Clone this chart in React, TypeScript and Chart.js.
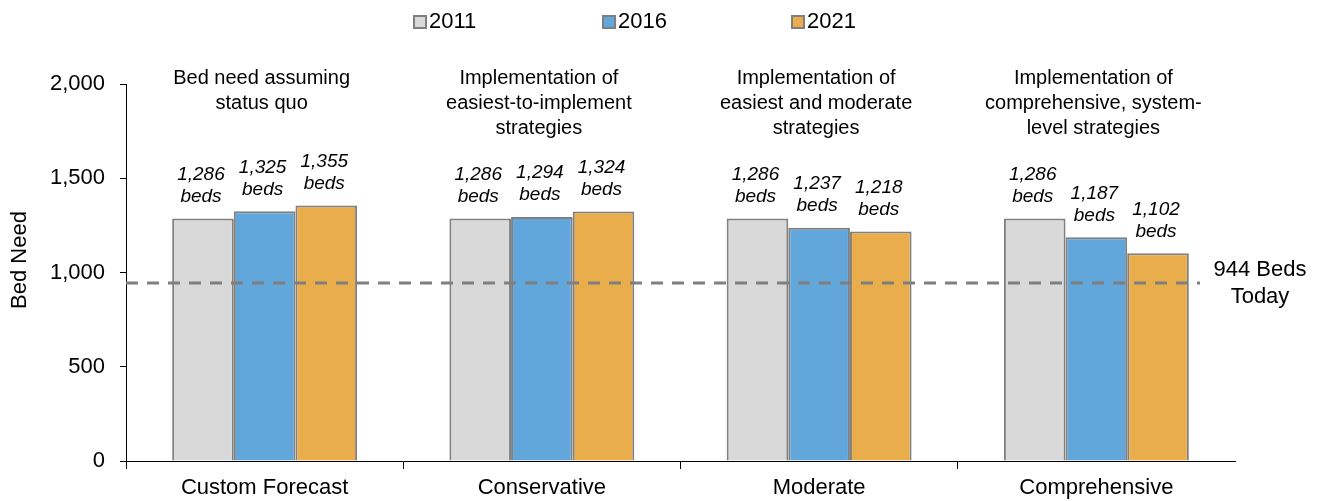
import React, { useEffect, useRef } from "react";
import { Chart, registerables } from "chart.js";

Chart.register(...registerables);

const categories = ["Custom Forecast", "Conservative", "Moderate", "Comprehensive"];
const groupTitles = [
  ["Bed need assuming", "status quo"],
  ["Implementation of", "easiest-to-implement", "strategies"],
  ["Implementation of", "easiest and moderate", "strategies"],
  ["Implementation of", "comprehensive, system-", "level strategies"],
];
const years = ["2011", "2016", "2021"];
const values2011 = [1286, 1286, 1286, 1286];
const values2016 = [1325, 1294, 1237, 1187];
const values2021 = [1355, 1324, 1218, 1102];
const yTicks = [0, 500, 1000, 1500, 2000];
const baselineValue = 944;
const baselineLabel = ["944 Beds", "Today"];
const yAxisTitle = "Bed Need";
const valueUnit = "beds";

const FONT = "'Liberation Sans', Arial, sans-serif";
const fills = ["#d9d9d9", "#62a7dc", "#e9ae4b"];
const barBorder = "#808080";

const overlayPlugin = {
  id: "overlay",
  afterDatasetsDraw(chart: any) {
    const { ctx, chartArea, scales } = chart;
    const x = scales.x;
    const y = scales.y;
    ctx.save();

    // baseline dashed line
    const yb = y.getPixelForValue(baselineValue);
    ctx.strokeStyle = "#7f7f7f";
    ctx.lineWidth = 3;
    ctx.setLineDash([12, 9]);
    ctx.beginPath();
    ctx.moveTo(chartArea.left, yb);
    ctx.lineTo(chartArea.right - 35, yb);
    ctx.stroke();
    ctx.setLineDash([]);

    ctx.fillStyle = "#000";
    ctx.textAlign = "center";
    ctx.textBaseline = "middle";
    ctx.font = `22px ${FONT}`;
    ctx.fillText(baselineLabel[0], chartArea.right + 25, yb - 13.5);
    ctx.fillText(baselineLabel[1], chartArea.right + 25, yb + 13.5);

    // value labels
    ctx.font = `italic 19px ${FONT}`;
    chart.data.datasets.forEach((ds: any, di: number) => {
      const meta = chart.getDatasetMeta(di);
      meta.data.forEach((el: any, i: number) => {
        const v = ds.data[i] as number;
        ctx.fillText(v.toLocaleString("en-US"), el.x - 2, el.y - 44);
        ctx.fillText(valueUnit, el.x - 2, el.y - 22);
      });
    });

    // group titles
    ctx.font = `20px ${FONT}`;
    const top = y.getPixelForValue(2000);
    groupTitles.forEach((lines, i) => {
      const cx = x.getPixelForValue(i) - 3;
      lines.forEach((ln, k) => {
        ctx.fillText(ln, cx, top - 6 + k * 25);
      });
    });

    // y-axis title
    ctx.save();
    ctx.translate(20, 260);
    ctx.rotate(-Math.PI / 2);
    ctx.font = `22px ${FONT}`;
    ctx.fillText(yAxisTitle, 0, 0);
    ctx.restore();

    // legend
    ctx.font = `22px ${FONT}`;
    ctx.textAlign = "left";
    const legendStart = 414;
    const legendStep = 189;
    years.forEach((yr, i) => {
      const bx = legendStart + i * legendStep;
      ctx.fillStyle = fills[i];
      ctx.fillRect(bx, 16, 12, 12);
      ctx.strokeStyle = "#7f7f7f";
      ctx.lineWidth = 2;
      ctx.strokeRect(bx, 16, 12, 12);
      ctx.fillStyle = "#000";
      ctx.fillText(yr, bx + 15, 22);
    });

    ctx.restore();
  },
};

export default function App() {
  const ref = useRef<HTMLCanvasElement | null>(null);
  useEffect(() => {
    if (!ref.current) return;
    const series = [values2011, values2016, values2021];
    const chart = new Chart(ref.current, {
      type: "bar",
      data: {
        labels: categories,
        datasets: years.map((yr, i) => ({
          label: yr,
          data: series[i],
          backgroundColor: fills[i],
          borderColor: barBorder,
          borderWidth: 2,
          borderSkipped: "bottom",
          categoryPercentage: 0.667,
          barPercentage: 1,
        })),
      },
      options: {
        responsive: false,
        animation: false,
        layout: { padding: { top: 84, right: 90, left: 0, bottom: 0 } },
        plugins: {
          legend: { display: false },
          tooltip: { enabled: false },
        },
        scales: {
          x: {
            ticks: { padding: 6, font: { size: 22, family: FONT }, color: "#000" },
            grid: {
              offset: true,
              drawOnChartArea: false,
              tickLength: 8,
              color: (c: any) => (c.index === undefined ? "rgba(0,0,0,0)" : "#000"),
            },
            border: { color: "#000", width: 1 },
            afterFit: (s: any) => {
              s.height = 40;
            },
          },
          y: {
            min: 0,
            max: 2000,
            afterBuildTicks: (s: any) => {
              s.ticks = yTicks.map((v) => ({ value: v }));
            },
            ticks: {
              padding: 15,
              font: { size: 22, family: FONT },
              color: "#000",
              callback: (v: any) => Number(v).toLocaleString("en-US"),
            },
            grid: { drawOnChartArea: false, tickLength: 6, color: "#000" },
            border: { color: "#000", width: 1 },
            afterFit: (s: any) => {
              s.width = 126;
            },
          },
        },
      },
      plugins: [overlayPlugin],
    });
    return () => chart.destroy();
  }, []);
  return (
    <canvas
      ref={ref}
      width={1325}
      height={501}
      style={{ position: "fixed", left: 0, top: 0, display: "block", width: 1325, height: 501 }}
    />
  );
}
